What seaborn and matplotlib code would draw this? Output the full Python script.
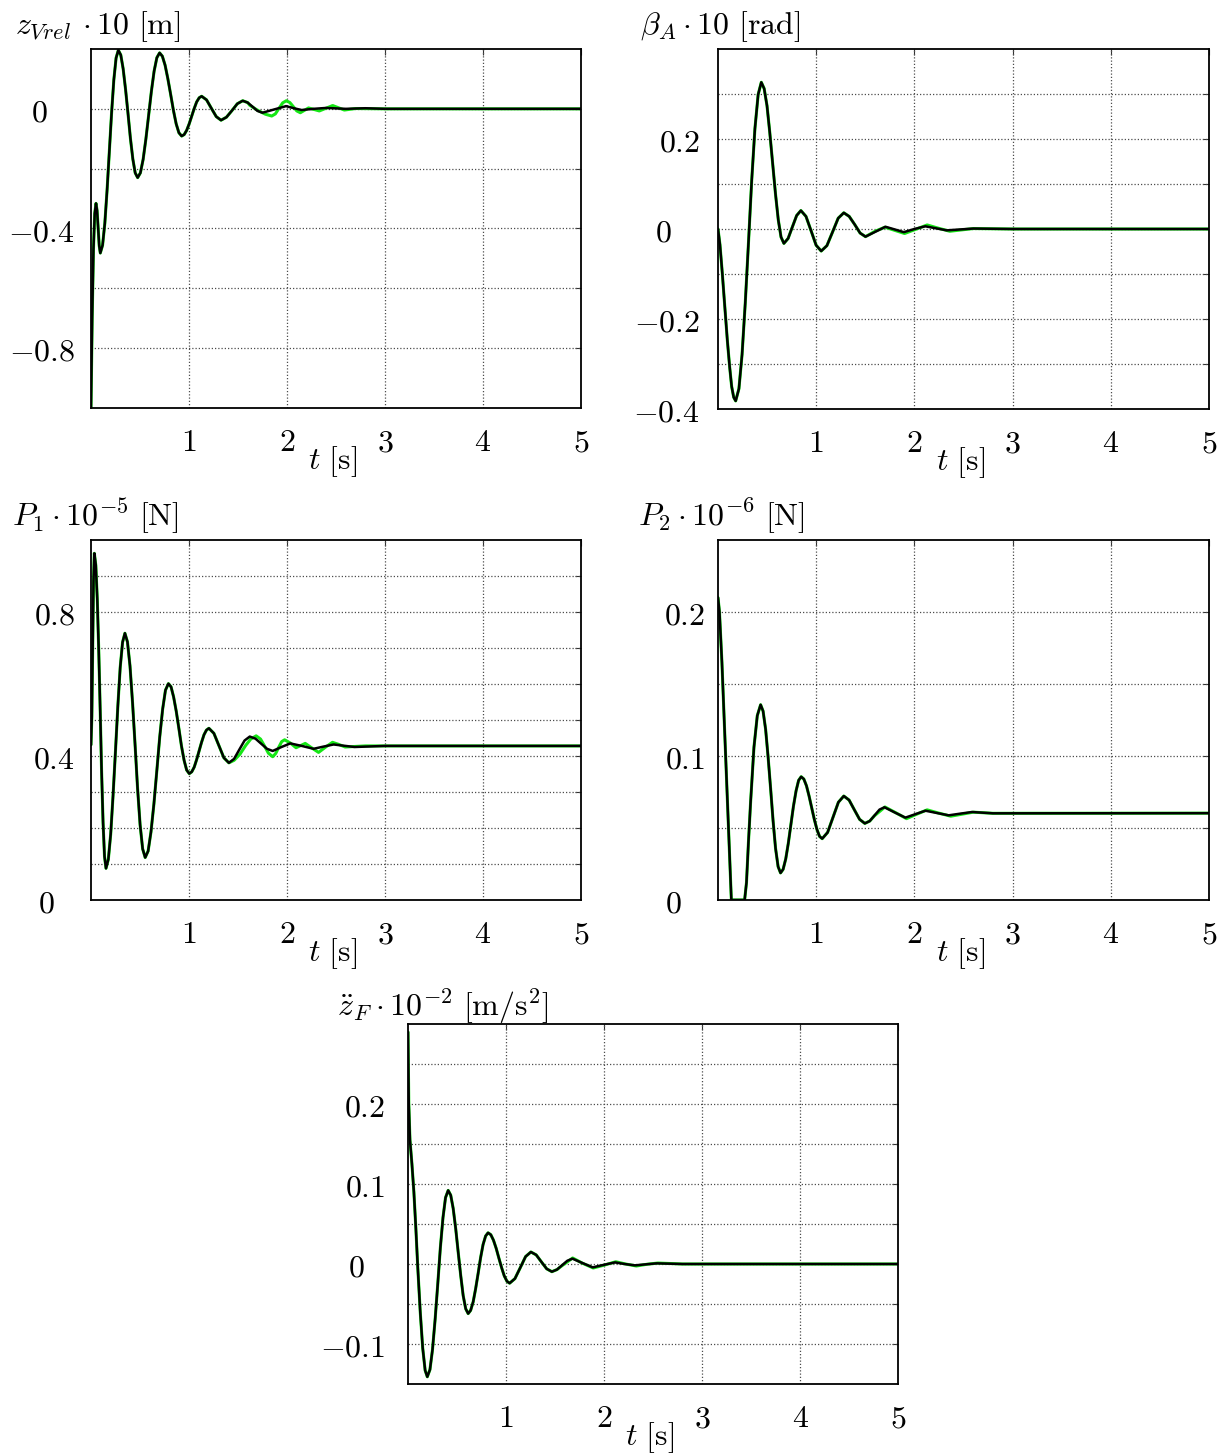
import matplotlib
matplotlib.use("Agg")
import matplotlib.pyplot as plt
import matplotlib.transforms as mtransforms
from matplotlib.ticker import FixedLocator, NullFormatter
import seaborn as sns

# ---------------------------------------------------------------------------
# Time histories (t in s). Black: reference response, green: comparison run.
# ---------------------------------------------------------------------------

# z_Vrel * 10 [m]
t_zv = [0.0, 0.012, 0.025, 0.038, 0.051, 0.062, 0.073, 0.084, 0.095,
        0.118, 0.141, 0.164, 0.187, 0.210, 0.233, 0.256, 0.279,
        0.304, 0.328, 0.353, 0.378, 0.402, 0.427, 0.451, 0.476,
        0.504, 0.532, 0.560, 0.588, 0.616, 0.644, 0.672, 0.700,
        0.728, 0.756, 0.784, 0.813, 0.841, 0.869, 0.897, 0.925,
        0.951, 0.976, 1.002, 1.027, 1.053, 1.078, 1.104, 1.129,
        1.179, 1.228, 1.278, 1.327, 1.382, 1.438, 1.493, 1.548, 1.598, 1.649, 1.699, 1.75,
        1.87, 1.99, 2.07, 2.15, 2.27, 2.4, 2.6, 2.8, 3.0, 5.0]
zv_black = [-1.0, -0.70, -0.47, -0.35, -0.316, -0.340, -0.399, -0.458, -0.482,
            -0.456, -0.383, -0.272, -0.143, -0.014, 0.097, 0.170, 0.196,
            0.180, 0.134, 0.064, -0.017, -0.098, -0.168, -0.214, -0.230,
            -0.214, -0.169, -0.101, -0.022, 0.058, 0.126, 0.171, 0.187,
            0.176, 0.146, 0.101, 0.048, -0.005, -0.050, -0.080, -0.091,
            -0.086, -0.072, -0.050, -0.025, 0.001, 0.023, 0.037, 0.042,
            0.030, 0.002, -0.026, -0.038, -0.028, -0.006, 0.017, 0.027, 0.021, 0.007, -0.007,
            -0.013, -0.002, 0.009, 0.002, -0.004, 0.0, 0.003, 0.0, 0.002, 0.0, 0.0]
t_zv_tail = [1.62, 1.70, 1.78, 1.844, 1.881, 1.918, 1.956, 1.993, 2.029, 2.065, 2.100, 2.136,
             2.22, 2.33, 2.466, 2.585, 2.7, 3.0, 5.0]
zv_green_tail = [0.012, -0.005, -0.018, -0.024, -0.017, 0.0015, 0.020, 0.027, 0.021, 0.007,
                 -0.007, -0.013, 0.003, -0.007, 0.011, -0.004, 0.001, 0.0, 0.0]

# beta_A * 10 [rad]
t_ba = [0.0, 0.02, 0.044, 0.07, 0.095, 0.118, 0.139, 0.16, 0.18,
        0.213, 0.245, 0.278, 0.311, 0.343, 0.376, 0.409, 0.441,
        0.470, 0.499, 0.527, 0.556, 0.585, 0.614, 0.642, 0.671,
        0.714, 0.758, 0.801, 0.844, 0.896, 0.948, 0.999, 1.051, 1.109, 1.166, 1.224, 1.281,
        1.336, 1.392, 1.447, 1.502, 1.604, 1.705, 1.8, 1.892, 2.0, 2.11, 2.22, 2.33, 2.6,
        3.0, 5.0]
ba_black = [0.0, -0.035, -0.099, -0.175, -0.247, -0.305, -0.350, -0.374, -0.382,
            -0.355, -0.279, -0.163, -0.028, 0.107, 0.223, 0.299, 0.326,
            0.312, 0.274, 0.215, 0.147, 0.079, 0.020, -0.018, -0.032,
            -0.021, 0.005, 0.030, 0.041, 0.028, -0.004, -0.036, -0.049, -0.037, -0.007, 0.024,
            0.036, 0.028, 0.010, -0.009, -0.017, -0.006, 0.005, -0.001, -0.007, 0.0, 0.006,
            0.0015, -0.003, 0.001, 0.0, 0.0]
t_ba_tail = [1.60, 1.70, 1.80, 1.90, 2.01, 2.13, 2.24, 2.36, 2.6, 3.0, 5.0]
ba_green_tail = [-0.005, 0.004, -0.003, -0.010, -0.001, 0.009, 0.002, -0.005, 0.001, 0.0, 0.0]

# P1 * 1e-5 [N]
t_p1 = [0.0, 0.0085, 0.017, 0.0255, 0.034,
        0.049, 0.064, 0.079, 0.094, 0.108, 0.123, 0.138, 0.153,
        0.177, 0.201, 0.225, 0.250, 0.274, 0.298, 0.322, 0.346,
        0.372, 0.398, 0.424, 0.450, 0.475, 0.501, 0.527, 0.553,
        0.583, 0.612, 0.642, 0.672, 0.701, 0.731, 0.760, 0.790,
        0.817, 0.843, 0.870, 0.897, 0.923, 0.950, 0.976, 1.003,
        1.028, 1.053, 1.078, 1.103, 1.128, 1.153, 1.178, 1.203,
        1.254, 1.305, 1.356, 1.407, 1.460, 1.514, 1.567, 1.62, 1.679, 1.737, 1.796, 1.854,
        1.944, 2.034, 2.15, 2.271, 2.37, 2.475, 2.69, 3.0, 5.0]
p1_black = [0.431, 0.509, 0.697, 0.885, 0.963,
            0.930, 0.835, 0.693, 0.526, 0.358, 0.216, 0.121, 0.088,
            0.113, 0.183, 0.290, 0.415, 0.539, 0.646, 0.716, 0.741,
            0.717, 0.650, 0.548, 0.430, 0.311, 0.209, 0.142, 0.118,
            0.136, 0.189, 0.267, 0.360, 0.452, 0.530, 0.583, 0.601,
            0.592, 0.564, 0.524, 0.476, 0.428, 0.388, 0.361, 0.351,
            0.356, 0.369, 0.390, 0.414, 0.438, 0.459, 0.472, 0.477,
            0.463, 0.429, 0.395, 0.381, 0.392, 0.418, 0.443, 0.454, 0.448, 0.434, 0.420, 0.414,
            0.425, 0.435, 0.428, 0.420, 0.426, 0.432, 0.425, 0.428, 0.428]
t_p1_tail = [1.46, 1.52, 1.58, 1.63, 1.685, 1.73, 1.77, 1.81, 1.854, 1.885, 1.915, 1.946, 1.976,
             2.034, 2.092, 2.14, 2.186, 2.25, 2.322, 2.39, 2.464, 2.53, 2.593, 2.8, 3.0, 5.0]
p1_green_tail = [0.388, 0.405, 0.430, 0.447, 0.456, 0.447, 0.428, 0.408, 0.398, 0.407, 0.424,
                 0.440, 0.445, 0.436, 0.423, 0.429, 0.435, 0.423, 0.410, 0.424, 0.438, 0.432,
                 0.425, 0.428, 0.428, 0.428]

# P2 * 1e-6 [N]
t_p2 = [0.0, 0.015, 0.04, 0.136, 0.271, 0.29, 0.31, 0.332, 0.366, 0.40, 0.434,
        0.459, 0.485, 0.510, 0.536, 0.561, 0.586, 0.612, 0.637,
        0.663, 0.690, 0.716, 0.742, 0.768, 0.795, 0.821, 0.847,
        0.874, 0.901, 0.927, 0.954, 0.981, 1.008, 1.034, 1.061,
        1.116, 1.171, 1.226, 1.281, 1.335, 1.388, 1.442, 1.495, 1.545, 1.595, 1.645, 1.695,
        1.80, 1.908, 2.01, 2.112, 2.23, 2.349, 2.47, 2.586, 2.8, 5.0]
p2_black = [0.210, 0.200, 0.165, 0.0, 0.0, 0.012, 0.040, 0.068, 0.106, 0.128, 0.1356,
            0.1312, 0.1185, 0.0995, 0.0772, 0.0549, 0.0359, 0.0232, 0.0188,
            0.0213, 0.0286, 0.0394, 0.0522, 0.0650, 0.0758, 0.0831, 0.0856,
            0.0840, 0.0793, 0.0723, 0.0641, 0.0559, 0.0489, 0.0442, 0.0426,
            0.0469, 0.0574, 0.0679, 0.0722, 0.0694, 0.0627, 0.0560, 0.0532, 0.0548, 0.0588,
            0.0628, 0.0644, 0.0608, 0.0572, 0.0596, 0.0620, 0.0604, 0.0588, 0.0600, 0.0611,
            0.0602, 0.0603]
t_p2_tail = [1.595, 1.70, 1.81, 1.92, 2.02, 2.13, 2.25, 2.37, 2.6, 2.8, 5.0]
p2_green_tail = [0.0586, 0.0646, 0.0606, 0.0565, 0.0595, 0.0626, 0.0603, 0.0582, 0.0610,
                 0.0602, 0.0603]

# zdd_F * 1e-2 [m/s^2]
t_zf = [0.0, 0.008, 0.02, 0.04, 0.06, 0.08, 0.10, 0.125, 0.15, 0.175, 0.197,
        0.224, 0.250, 0.277, 0.304, 0.330, 0.357, 0.383, 0.41,
        0.436, 0.461, 0.487, 0.512, 0.538, 0.563, 0.589, 0.614,
        0.639, 0.665, 0.690, 0.716, 0.741, 0.766, 0.792, 0.817,
        0.845, 0.872, 0.900, 0.927, 0.955, 0.982, 1.010, 1.037,
        1.091, 1.146, 1.200, 1.254, 1.308, 1.361, 1.415, 1.468, 1.52, 1.573, 1.625, 1.678,
        1.78, 1.885, 2.0, 2.112, 2.21, 2.315, 2.42, 2.536, 2.8, 5.0]
zf_black = [0.290, 0.200, 0.155, 0.125, 0.090, 0.045, -0.005, -0.060, -0.105, -0.133, -0.141,
            -0.132, -0.107, -0.069, -0.0245, 0.020, 0.058, 0.083, 0.092,
            0.086, 0.0695, 0.044, 0.015, -0.0144, -0.0395, -0.056, -0.062,
            -0.058, -0.0473, -0.031, -0.0115, 0.008, 0.0243, 0.035, 0.039,
            0.0366, 0.0298, 0.0195, 0.0075, -0.0045, -0.0148, -0.0216, -0.024,
            -0.0183, -0.0045, 0.0093, 0.015, 0.0114, 0.0027, -0.006, -0.0096, -0.007, -0.0015,
            0.004, 0.0067, 0.0012, -0.0042, -0.001, 0.002, 0.0, -0.0017, -0.0005, 0.0008,
            0.0, 0.0]
t_zf_tail = [1.573, 1.68, 1.78, 1.89, 2.0, 2.12, 2.22, 2.33, 2.44, 2.55, 2.8, 5.0]
zf_green_tail = [-0.002, 0.0075, 0.001, -0.005, -0.0015, 0.0028, 0.0, -0.0025, -0.0003,
                 0.0012, 0.0, 0.0]

x_ticks = [1, 2, 3, 4, 5]
x_grid = [1, 2, 3, 4]

# ---------------------------------------------------------------------------
sns.set_theme(style="white")
plt.rcParams["font.family"] = ["DejaVu Serif"]
plt.rcParams["mathtext.fontset"] = "cm"
plt.rcParams["text.color"] = "black"
plt.rcParams["xtick.color"] = "black"
plt.rcParams["ytick.color"] = "black"

W, H = 1231, 1454
fig = plt.figure(figsize=(W / 100, H / 100), dpi=100)

FS = 23
GREEN = "#14e614"
GRID = dict(color="#4d4d4d", linestyle=(0, (1, 1.6)), linewidth=0.9)


def px_box(left, top, right, bottom):
    return [left / W, 1 - bottom / H, (right - left) / W, (bottom - top) / H]


def green_series(t_black, y_black, t_tail, y_tail):
    keep = [i for i, t in enumerate(t_black) if t < t_tail[0] - 1e-9]
    return ([t_black[i] for i in keep] + t_tail, [y_black[i] for i in keep] + y_tail)


def ylab(v):
    if abs(v) < 1e-12:
        return "$0$"
    return "$" + f"{v:g}" + "$"


panels = [
    dict(box=(91, 49, 581, 408), ylim=(-1.0, 0.2), labels=[-0.8, -0.4, 0.0],
         grid=[-0.8, -0.6, -0.4, -0.2, 0.0], t=t_zv, y=zv_black,
         tt=t_zv_tail, yt=zv_green_tail,
         title=r"$z_{Vrel}\,\cdot 10\ [\mathrm{m}]$", title_xy=(15, 34), gap=16, zero_gap=43),
    dict(box=(718, 49, 1209, 409), ylim=(-0.4, 0.4), labels=[-0.4, -0.2, 0.0, 0.2],
         grid=[-0.3, -0.2, -0.1, 0.0, 0.1, 0.2, 0.3], t=t_ba, y=ba_black,
         tt=t_ba_tail, yt=ba_green_tail,
         title=r"$\beta_A\cdot 10\ [\mathrm{rad}]$", title_xy=(640, 34), gap=18, zero_gap=46),
    dict(box=(91, 540, 581, 900), ylim=(0.0, 1.0), labels=[0.0, 0.4, 0.8],
         grid=[0.1, 0.2, 0.3, 0.4, 0.5, 0.6, 0.7, 0.8, 0.9], t=t_p1, y=p1_black,
         tt=t_p1_tail, yt=p1_green_tail,
         title=r"$P_1\cdot 10^{-5}\ [\mathrm{N}]$", title_xy=(12, 526), gap=16, zero_gap=36),
    dict(box=(718, 540, 1209, 900), ylim=(0.0, 0.25), labels=[0.0, 0.1, 0.2],
         grid=[0.05, 0.1, 0.15, 0.2], t=t_p2, y=p2_black,
         tt=t_p2_tail, yt=p2_green_tail,
         title=r"$P_2\cdot 10^{-6}\ [\mathrm{N}]$", title_xy=(638, 526), gap=13, zero_gap=36),
    dict(box=(408, 1024, 898, 1384), ylim=(-0.15, 0.3), labels=[-0.1, 0.0, 0.1, 0.2],
         grid=[-0.1, -0.05, 0.0, 0.05, 0.1, 0.15, 0.2, 0.25], t=t_zf, y=zf_black,
         tt=t_zf_tail, yt=zf_green_tail,
         title=r"$\ddot{z}_F\cdot 10^{-2}\ [\mathrm{m/s^2}]$", title_xy=(337, 1016),
         gap=23, zero_gap=43),
]

for p in panels:
    ax = fig.add_axes(px_box(*p["box"]))
    tg, yg = green_series(p["t"], p["y"], p["tt"], p["yt"])
    sns.lineplot(x=tg, y=yg, ax=ax, color=GREEN, linewidth=2.2,
                 estimator=None, sort=False, zorder=3)
    sns.lineplot(x=p["t"], y=p["y"], ax=ax, color="black", linewidth=1.8,
                 estimator=None, sort=False, zorder=4)

    ax.set_xlim(0, 5)
    ax.set_ylim(*p["ylim"])
    ax.set_xlabel("")
    ax.set_ylabel("")

    # grid: vertical lines at whole seconds, horizontal lines at every step
    for xv in x_grid:
        ax.axvline(xv, zorder=1, **GRID)
    for yv in p["grid"]:
        ax.axhline(yv, zorder=1, **GRID)

    ax.xaxis.set_major_locator(FixedLocator(x_ticks))
    ax.set_xticklabels([f"${v}$" for v in x_ticks])
    ax.yaxis.set_major_locator(FixedLocator(p["grid"]))
    ax.yaxis.set_major_formatter(NullFormatter())
    ax.tick_params(axis="both", direction="in", length=4, width=0.8, color="#333333",
                   top=True, right=True, labelsize=FS, labelcolor="black")
    ax.tick_params(axis="x", pad=14)

    for s in ax.spines.values():
        s.set_linewidth(1.3)
        s.set_color("black")
        s.set_zorder(5)

    # y tick labels placed left of the spine
    blend = mtransforms.blended_transform_factory(ax.transAxes, ax.transData)
    for v in p["labels"]:
        gap = p["zero_gap"] if abs(v) < 1e-12 else p["gap"]
        tr = mtransforms.offset_copy(blend, fig=fig, x=-gap, y=-4, units="dots")
        ax.text(0, v, ylab(v), transform=tr, ha="right", va="center", fontsize=FS,
                color="black")

    # time axis label
    ax.text(0.494, -0.15, r"$t\ [\mathrm{s}]$", transform=ax.transAxes,
            ha="center", va="center", fontsize=FS, color="black")

    tx, ty = p["title_xy"]
    fig.text(tx / W, 1 - ty / H, p["title"], ha="left", va="baseline", fontsize=FS,
             color="black")

fig.savefig("out.png", dpi=100, facecolor="white")
